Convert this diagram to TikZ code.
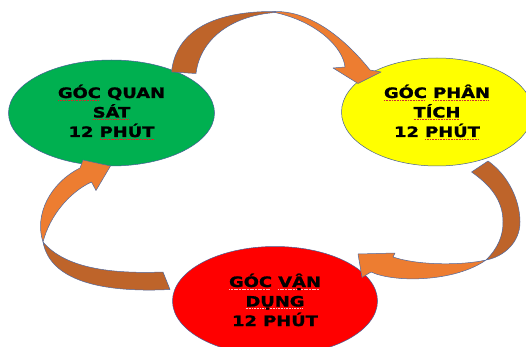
\documentclass[tikz,border=0pt]{standalone}
\usepackage{fontspec}
\usetikzlibrary{shapes.geometric}
\newfontfamily\lblfont[FakeStretch=1.25,FakeBold=1.4]{DejaVu Sans}
\definecolor{cgreen}{RGB}{0,176,80}
\definecolor{cyellow}{RGB}{255,255,0}
\definecolor{cred}{RGB}{255,0,0}
\definecolor{adark}{RGB}{190,100,42}
\definecolor{alight}{RGB}{237,125,49}
\definecolor{aline}{RGB}{80,105,160}
\definecolor{eline}{RGB}{70,95,150}
\definecolor{sqa}{RGB}{205,45,45}
\definecolor{sqb}{RGB}{255,190,190}
\newsavebox\sqbox
\newcommand\sqline[2]{\sbox\sqbox{#2}\rlap{\textcolor{#1}{\leaders\hbox{\rule[-2.6pt]{1.1pt}{0.7pt}\kern0.5pt}\hskip\wd\sqbox}}\usebox\sqbox}
\begin{document}
\begin{tikzpicture}[x=1pt,y=-1pt,
  blob/.style={ellipse, draw=eline, line width=0.5pt, inner sep=0pt},
  lbl/.style={anchor=base, inner sep=0pt, text=black,
    font=\lblfont\bfseries\fontsize{14.3pt}{17pt}\selectfont},
  arrdark/.style={fill=adark, draw=aline, line width=0.5pt, line join=round},
  arrlight/.style={fill=alight, draw=aline, line width=0.5pt, line join=round}]
\useasboundingbox (0,0) rectangle (526,347);
\fill[white] (0,0) rectangle (526,347);
\begin{scope}
\clip (0,0) rectangle (526,347);
% ellipses
\node[blob, fill=cgreen, minimum width=206pt, minimum height=106pt] (g) at (111.5,113) {};
\node[blob, fill=cyellow, minimum width=191pt, minimum height=108pt] (y) at (437,112) {};
\node[blob, fill=cred, minimum width=205pt, minimum height=109pt] (r) at (275,301) {};
% top arrow
\filldraw[arrdark] (171.5,72) .. controls (176,30) and (215,11) .. (275,11.5)
  -- (275,12.5) .. controls (230,16) and (200,40) .. (196,73.5) -- cycle;
\filldraw[arrlight] (275,11.5) .. controls (315,11) and (350,45) .. (370,70)
  -- (381,72) -- (358,83.5) -- (333,68) -- (345,67)
  .. controls (343,48) and (318,22) .. (275,12.5) -- cycle;
% right arrow
\filldraw[arrdark] (488,161) .. controls (508,175) and (520,200) .. (520,222)
  .. controls (520,243) and (503,257) .. (486,260)
  .. controls (498,248) and (503,236) .. (503,222)
  .. controls (503,200) and (490,185) .. (471.5,172) -- cycle;
\filldraw[arrlight] (486,260) .. controls (465,265) and (420,266) .. (393,257)
  -- (395,253) -- (358,254) -- (362,277.5) -- (371,272)
  .. controls (395,283) and (455,282) .. (486,260) -- cycle;
% left arrow
\filldraw[arrlight] (43,242) .. controls (34,215) and (50,183) .. (80,168)
  -- (83,160) -- (110.5,166) -- (96,190.5) -- (91.5,182)
  .. controls (70,192) and (50,215) .. (43,242) -- cycle;
\filldraw[arrdark] (43,242) .. controls (50,280) and (100,293) .. (170,289.5)
  -- (163,272) .. controls (110,274) and (65,268) .. (43,242) -- cycle;
\end{scope}
% labels
\node[lbl] (g1) at (111.5,98) {\sqline{sqa}{GÓC} QUAN};
\node[lbl] (g2) at (111.5,117.5) {\sqline{sqa}{SÁT}};
\node[lbl] (g3) at (111.5,137) {12 \sqline{sqa}{PHÚT}};
\node[lbl] (y1) at (437,98) {\sqline{sqa}{GÓC} \sqline{sqa}{PHÂN}};
\node[lbl] (y2) at (437,117.5) {\sqline{sqa}{TÍCH}};
\node[lbl] (y3) at (437,137) {12 \sqline{sqa}{PHÚT}};
\node[lbl] (r1) at (275,287) {\sqline{sqb}{GÓC} \sqline{sqb}{VẬN}};
\node[lbl] (r2) at (275,306.5) {\sqline{sqb}{DỤNG}};
\node[lbl] (r3) at (275,326) {12 PHÚT};
\end{tikzpicture}
\end{document}
